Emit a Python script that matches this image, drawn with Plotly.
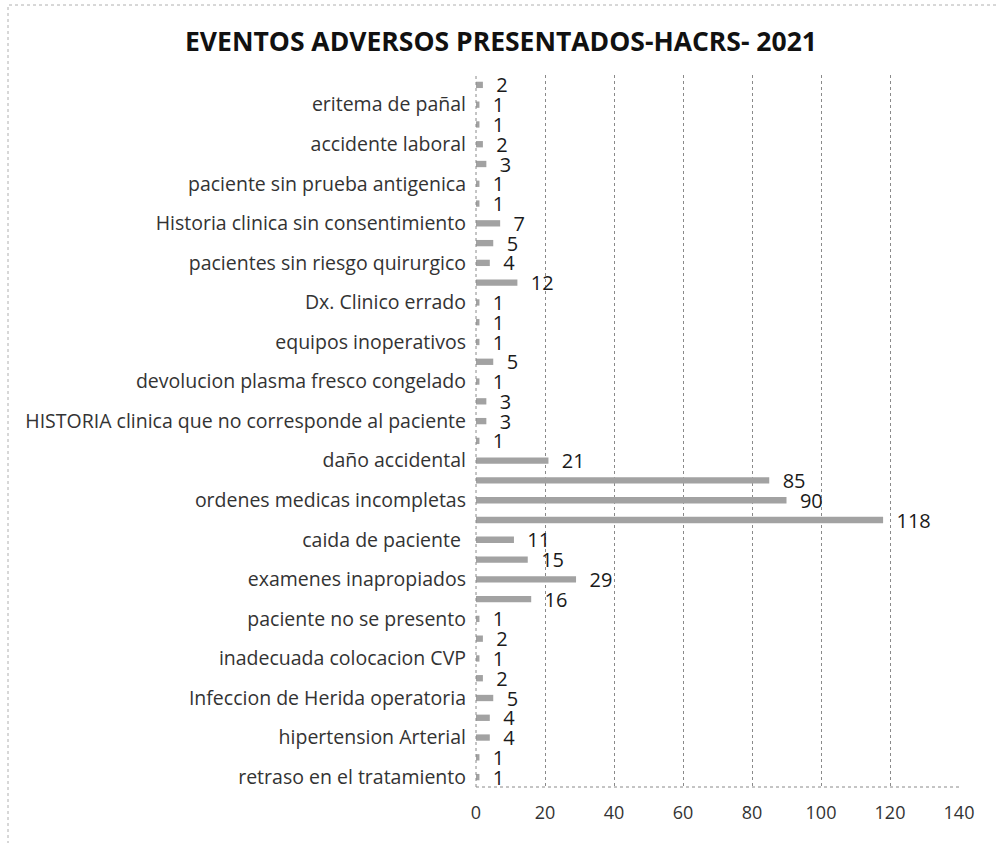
import plotly.graph_objects as go

# Categories listed top to bottom; Excel shows a label on every second category only
tick_labels = [
    "eritema de pañal",
    "accidente laboral",
    "paciente sin prueba antigenica",
    "Historia clinica sin consentimiento",
    "pacientes sin riesgo quirurgico",
    "Dx. Clinico errado",
    "equipos inoperativos",
    "devolucion plasma fresco congelado",
    "HISTORIA clinica que no corresponde al paciente",
    "daño accidental",
    "ordenes medicas incompletas",
    "caida de paciente ",
    "examenes inapropiados",
    "paciente no se presento",
    "inadecuada colocacion CVP",
    "Infeccion de Herida operatoria",
    "hipertension Arterial",
    "retraso en el tratamiento",
]

values = [2, 1, 1, 2, 3, 1, 1, 7, 5, 4, 12, 1, 1, 1, 5, 1, 3, 3, 1, 21,
          85, 90, 118, 11, 15, 29, 16, 1, 2, 1, 2, 5, 4, 4, 1, 1]

x_ticks = [0, 20, 40, 60, 80, 100, 120, 140]

positions = list(range(len(values)))
label_positions = positions[1::2]

FONT = "Open Sans"

fig = go.Figure(go.Bar(
    x=values,
    y=positions,
    orientation="h",
    marker=dict(color="#a2a2a2", line=dict(width=0)),
    texttemplate="  %{x}",
    textposition="outside",
    constraintext="none",
    textfont=dict(family=FONT, size=20, color="#1a1a1a"),
    cliponaxis=False,
))

fig.update_layout(
    width=996,
    height=843,
    paper_bgcolor="white",
    plot_bgcolor="white",
    margin=dict(l=476, r=37, t=75, b=56),
    bargap=0.68,
    showlegend=False,
    title=dict(
        text="<b>EVENTOS ADVERSOS PRESENTADOS-HACRS- 2021</b>",
        font=dict(family=FONT, size=26.5, color="#111"),
        x=0.503, xanchor="center",
        y=1 - 42 / 843, yanchor="middle",
    ),
    xaxis=dict(
        range=[0, 140],
        tickvals=x_ticks,
        ticktext=[str(t) for t in x_ticks],
        showgrid=True,
        gridcolor="#8a8a8a",
        griddash="dot",
        gridwidth=1,
        zeroline=False,
        showline=False,
        ticks="",
        tickfont=dict(family=FONT, size=18, color="#333"),
        ticklabelstandoff=13,
    ),
    yaxis=dict(
        range=[len(values) - 0.5, -0.5],
        tickvals=label_positions,
        ticktext=tick_labels,
        showgrid=False,
        zeroline=False,
        showline=False,
        ticks="",
        tickfont=dict(family=FONT, size=19.5, color="#333"),
        ticklabelstandoff=9,
    ),
    shapes=[
        dict(type="line", xref="paper", yref="paper", x0=0, x1=1, y0=0, y1=0,
             line=dict(color="#8a8a8a", width=1, dash="dot")),
        dict(type="line", xref="paper", yref="paper", x0=0, x1=0, y0=0, y1=1,
             line=dict(color="#8a8a8a", width=1, dash="dot")),
        dict(type="rect", xref="paper", yref="paper",
             x0=-468 / 483, x1=1 + 40 / 483, y0=-60 / 712, y1=1 + 70 / 712,
             line=dict(color="#b0b0b0", width=1, dash="dot")),
    ],
)

fig.write_html("out.html", config={"displayModeBar": False})

# remove the browser's default page margin so the figure sits at (0, 0)
with open("out.html", encoding="utf-8") as f:
    html = f.read()
html = html.replace("<head>", "<head><style>body{margin:0;}</style>", 1)
with open("out.html", "w", encoding="utf-8") as f:
    f.write(html)
